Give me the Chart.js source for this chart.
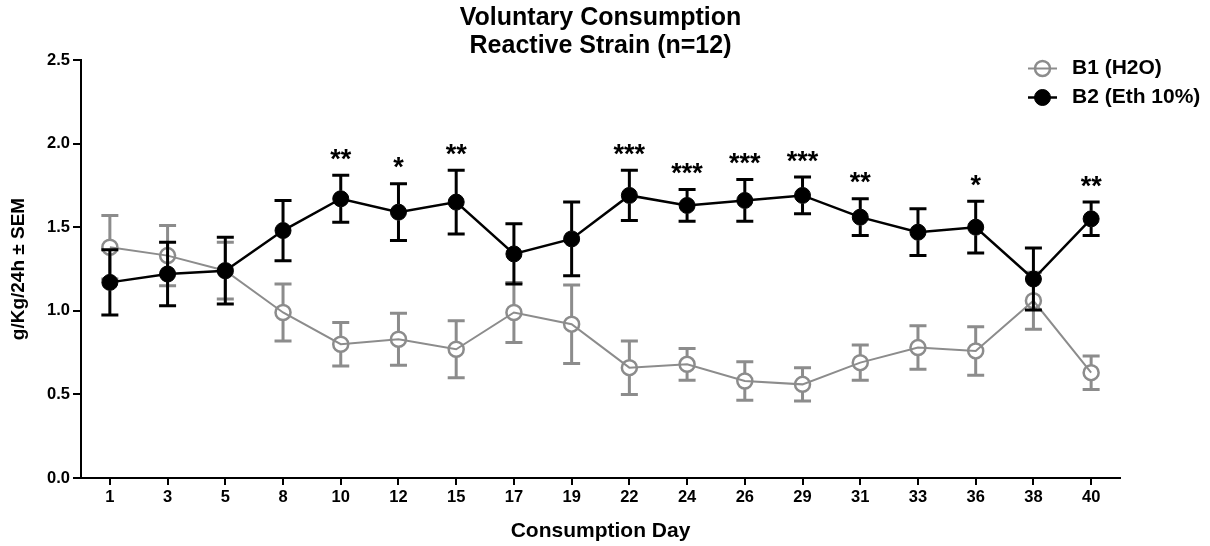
<!DOCTYPE html>
<html lang="en">
  <head>
    <meta charset="UTF-8" />
    <script src="https://cdn.jsdelivr.net/npm/chart.js"></script>
    <style>
      body {
        margin: 0;
        background: #fff;
      }
      #wrap {
        position: relative;
        width: 1210px;
        height: 546px;
      }
    </style>
  </head>
  <body>
    <div id="wrap"><canvas id="consumptionChart"></canvas></div>

    <script>
      // consumption days (x categories)
      const days = ["1", "3", "5", "8", "10", "12", "15", "17", "19", "22", "24", "26", "29", "31", "33", "36", "38", "40"];

      // B1 (H2O) mean and SEM
      const b1Mean = [1.38, 1.33, 1.24, 0.99, 0.80, 0.83, 0.77, 0.99, 0.92, 0.66, 0.68, 0.58, 0.56, 0.69, 0.78, 0.76, 1.06, 0.63];
      const b1Sem = [0.19, 0.18, 0.17, 0.17, 0.13, 0.155, 0.17, 0.18, 0.235, 0.16, 0.095, 0.115, 0.10, 0.105, 0.13, 0.145, 0.17, 0.10];

      // B2 (Eth 10%) mean and SEM
      const b2Mean = [1.17, 1.22, 1.24, 1.48, 1.67, 1.59, 1.65, 1.34, 1.43, 1.69, 1.63, 1.66, 1.69, 1.56, 1.47, 1.50, 1.19, 1.55];
      const b2Sem = [0.195, 0.19, 0.20, 0.18, 0.14, 0.17, 0.19, 0.18, 0.22, 0.15, 0.095, 0.125, 0.11, 0.11, 0.14, 0.155, 0.185, 0.10];

      // significance marks above B2
      const stars = ["", "", "", "", "**", "*", "**", "", "", "***", "***", "***", "***", "**", "", "*", "", "**"];

      const yTicks = [0, 0.5, 1.0, 1.5, 2.0, 2.5];

      const FONT = '"Liberation Sans", Arial, sans-serif';
      const GRAY = "#8c8c8c";
      Chart.defaults.font.family = FONT;
      Chart.defaults.color = "#000";

      // SEM bars, drawn under each dataset's line and points
      const errorBars = {
        id: "errorBars",
        beforeDatasetDraw(chart, args) {
          const ds = chart.data.datasets[args.index];
          const yScale = chart.scales.y;
          const ctx = chart.ctx;
          ctx.save();
          ctx.strokeStyle = ds.borderColor;
          ctx.lineWidth = 3;
          args.meta.data.forEach((pt, i) => {
            const m = ds.data[i];
            const e = ds.errors[i];
            const yTop = yScale.getPixelForValue(m + e);
            const yBot = yScale.getPixelForValue(m - e);
            const r = ds.pointRadius;
            ctx.beginPath();
            ctx.moveTo(pt.x, pt.y - r);
            ctx.lineTo(pt.x, yTop);
            ctx.moveTo(pt.x, pt.y + r);
            ctx.lineTo(pt.x, yBot);
            ctx.moveTo(pt.x - 8.5, yTop);
            ctx.lineTo(pt.x + 8.5, yTop);
            ctx.moveTo(pt.x - 8.5, yBot);
            ctx.lineTo(pt.x + 8.5, yBot);
            ctx.stroke();
          });
          ctx.restore();
        },
      };

      // asterisks over the B2 error bars
      const sigMarks = {
        id: "sigMarks",
        afterDatasetsDraw(chart) {
          const ctx = chart.ctx;
          const meta = chart.getDatasetMeta(1);
          const yScale = chart.scales.y;
          ctx.save();
          ctx.fillStyle = "#000";
          ctx.font = "bold 27px " + FONT;
          ctx.textAlign = "center";
          ctx.textBaseline = "alphabetic";
          stars.forEach((s, i) => {
            if (!s) return;
            const x = meta.data[i].x;
            const center = yScale.getPixelForValue(b2Mean[i] + b2Sem[i]) - 21;
            const mt = ctx.measureText(s);
            const base = center + (mt.actualBoundingBoxAscent - mt.actualBoundingBoxDescent) / 2;
            ctx.fillText(s, x, base);
          });
          ctx.restore();
        },
      };

      // legend in the upper right corner
      const cornerLegend = {
        id: "cornerLegend",
        afterDraw(chart) {
          const ctx = chart.ctx;
          const rows = [68.5, 97.5];
          ctx.save();
          chart.data.datasets.forEach((ds, i) => {
            const y = rows[i];
            ctx.strokeStyle = ds.borderColor;
            ctx.lineWidth = ds.borderWidth;
            ctx.beginPath();
            ctx.moveTo(1028, y);
            ctx.lineTo(1057, y);
            ctx.stroke();
            ctx.beginPath();
            ctx.arc(1042.5, y, ds.pointRadius, 0, Math.PI * 2);
            ctx.fillStyle = ds.pointBackgroundColor;
            ctx.fill();
            ctx.lineWidth = ds.pointBorderWidth;
            ctx.strokeStyle = ds.pointBorderColor;
            ctx.stroke();
            ctx.fillStyle = "#000";
            ctx.font = "bold 21px " + FONT;
            ctx.textAlign = "left";
            ctx.textBaseline = "middle";
            ctx.fillText(ds.label, 1072, y);
          });
          ctx.restore();
        },
      };

      const ctx = document.getElementById("consumptionChart").getContext("2d");
      new Chart(ctx, {
        type: "line",
        data: {
          labels: days,
          datasets: [
            {
              label: "B1 (H2O)",
              data: b1Mean,
              errors: b1Sem,
              borderColor: GRAY,
              borderWidth: 2,
              pointRadius: 7.5,
              pointBorderWidth: 2.5,
              pointBorderColor: GRAY,
              pointBackgroundColor: "rgba(0,0,0,0)",
              tension: 0,
              order: 2,
            },
            {
              label: "B2 (Eth 10%)",
              data: b2Mean,
              errors: b2Sem,
              borderColor: "#000",
              borderWidth: 2.5,
              pointRadius: 8,
              pointBorderWidth: 1,
              pointBorderColor: "#000",
              pointBackgroundColor: "#000",
              tension: 0,
              order: 1,
            },
          ],
        },
        options: {
          responsive: true,
          maintainAspectRatio: false,
          animation: false,
          devicePixelRatio: 1,
          layout: { padding: { left: 0, right: 90, top: 0, bottom: 0 } },
          plugins: {
            legend: { display: false },
            tooltip: { enabled: false },
            title: {
              display: true,
              fullSize: false,
              text: ["Voluntary Consumption", "Reactive Strain (n=12)"],
              color: "#000",
              font: { size: 25, weight: "bold", lineHeight: 1.12 },
              padding: { top: 4, bottom: 0 },
            },
          },
          scales: {
            x: {
              offset: true,
              grid: { drawOnChartArea: false, tickLength: 7, color: "#000", lineWidth: 2 },
              border: { color: "#000", width: 2 },
              ticks: {
                color: "#000",
                font: { size: 16.5, weight: "bold" },
                padding: 3,
                maxRotation: 0,
                autoSkip: false,
              },
              title: {
                display: true,
                text: "Consumption Day",
                color: "#000",
                font: { size: 21, weight: "bold" },
                padding: { top: 0, bottom: 2.5 },
              },
              afterFit(scale) {
                scale.height = 68;
              },
            },
            y: {
              min: 0,
              max: 2.5,
              afterBuildTicks(scale) {
                scale.ticks = yTicks.map((v) => ({ value: v }));
              },
              grid: { drawOnChartArea: false, tickLength: 8, color: "#000", lineWidth: 2 },
              border: { color: "#000", width: 2 },
              ticks: {
                color: "#000",
                font: { size: 16.5, weight: "bold" },
                padding: 3,
                callback: (v) => Number(v).toFixed(1),
              },
              title: {
                display: true,
                text: "g/Kg/24h ± SEM",
                color: "#000",
                font: { size: 19, weight: "bold" },
                padding: { top: 7, bottom: 0 },
              },
              afterFit(scale) {
                scale.width = 81;
              },
            },
          },
        },
        plugins: [errorBars, sigMarks, cornerLegend],
      });
    </script>
  </body>
</html>
